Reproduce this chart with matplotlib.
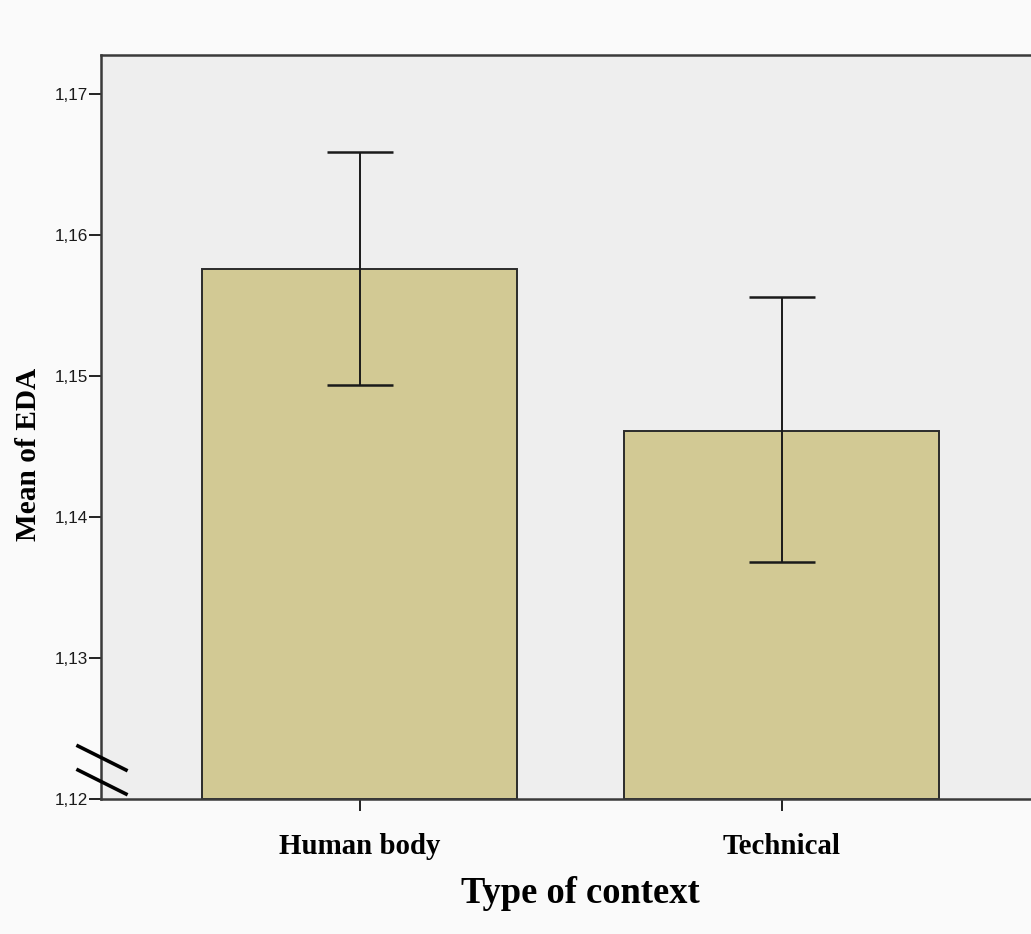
import matplotlib
matplotlib.use("Agg")
import matplotlib.pyplot as plt
from matplotlib.lines import Line2D
from matplotlib.ticker import FuncFormatter

# values
contexts = ["Human body", "Technical"]
means = [1.1576, 1.1461]
err_low = [1.1494, 1.1368]
err_high = [1.1659, 1.1556]
y_ticks = [1.12, 1.13, 1.14, 1.15, 1.16, 1.17]

W, H = 1031, 934
fig = plt.figure(figsize=(W / 100, H / 100), dpi=100, facecolor="#fafafa")
ax = fig.add_axes([101 / W, 1 - 799 / H, 1 - 101 / W, (799 - 55) / H])
ax.set_facecolor("#eeeeee")

x = list(range(len(contexts)))
yerr = [[m - lo for m, lo in zip(means, err_low)],
        [hi - m for m, hi in zip(means, err_high)]]
ax.bar(x, [m - 1.12 for m in means], bottom=1.12, width=0.746,
       color="#d2c994", edgecolor="#2b2b2b", linewidth=1.4, zorder=2)
ax.errorbar(x, means, yerr=yerr, fmt="none", ecolor="#1a1a1a",
            elinewidth=1.4, capsize=23.5, capthick=1.8, zorder=3)

ax.set_xlim(-0.6126, 1.591)
ax.set_ylim(1.12, 1.1728)
ax.set_yticks(y_ticks)
ax.yaxis.set_major_formatter(FuncFormatter(lambda v, p: ("%.2f" % v).replace(".", ",")))
ax.set_xticks(x)
ax.set_xticklabels(contexts, fontdict={"family": "Liberation Serif", "weight": "bold", "size": 20.8})
for lab in ax.get_yticklabels():
    lab.set_family("Liberation Sans")
    lab.set_fontsize(12.3)
    lab.set_color("#1a1a1a")
ax.tick_params(axis="both", direction="out", length=8.5, width=1.4, color="#222222")
ax.tick_params(axis="x", pad=16)
ax.tick_params(axis="y", pad=1)

for s in ["top", "left", "bottom"]:
    ax.spines[s].set_color("#3a3a3a")
    ax.spines[s].set_linewidth(1.8)
ax.spines["right"].set_visible(False)

ax.set_xlabel("Type of context", family="Liberation Serif", weight="bold", fontsize=26.3)
ax.xaxis.set_label_coords((580.5 - 101) / (W - 101), -(876 - 799) / (799 - 55), transform=ax.transAxes)
ax.set_ylabel("Mean of EDA", family="Liberation Serif", weight="bold", fontsize=21.2)
ax.yaxis.set_label_coords(-(101 - 42) / (W - 101), (799 - 454) / (799 - 55))

# axis break marks
for y0 in (746, 770):
    fig.add_artist(Line2D([78 / W, 126 / W], [1 - y0 / H, 1 - (y0 + 24) / H],
                          color="black", linewidth=2.6, transform=fig.transFigure))

fig.savefig("out.png", dpi=100, facecolor=fig.get_facecolor())
